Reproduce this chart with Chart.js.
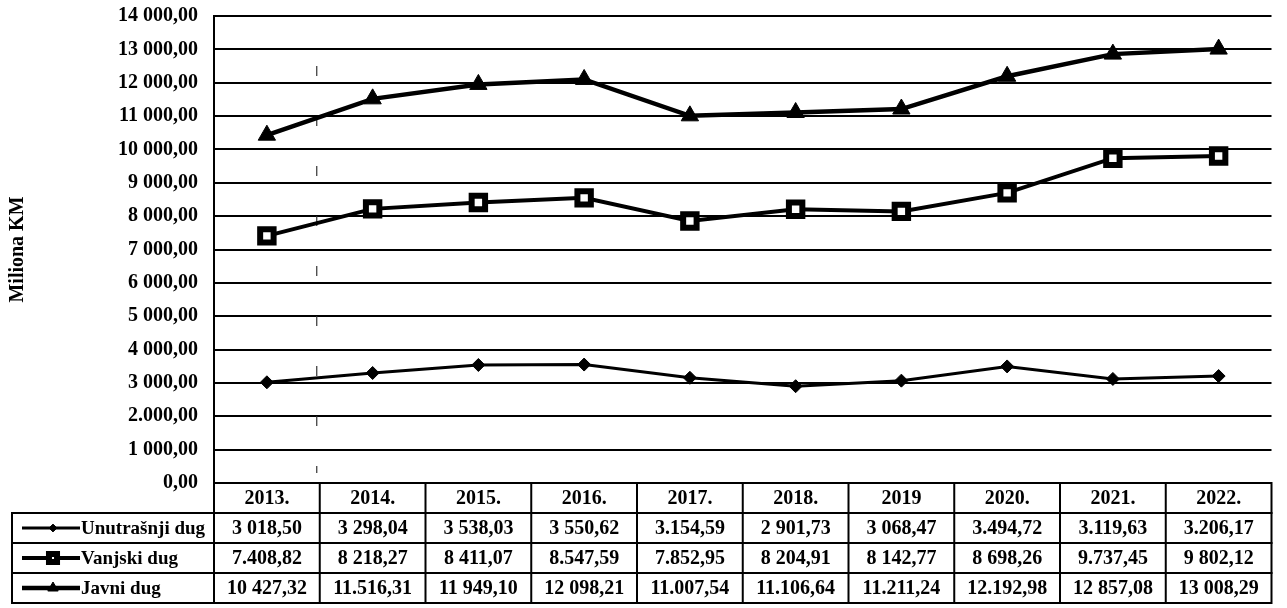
<!DOCTYPE html>
<html>
<head>
<meta charset="utf-8">
<script src="https://cdn.jsdelivr.net/npm/chart.js"></script>
<style>
  html, body { margin: 0; padding: 0; background: #fff; }
  #wrap { width: 1287px; height: 608px; position: relative; }
</style>
</head>
<body>
<div id="wrap"><canvas id="dug-chart"></canvas></div>
<script>
// godine (kategorije)
const years = ["2013.", "2014.", "2015.", "2016.", "2017.", "2018.", "2019", "2020.", "2021.", "2022."];

// vrijednosti serija (miliona KM)
const unutrasnjiDug = [3018.50, 3298.04, 3538.03, 3550.62, 3154.59, 2901.73, 3068.47, 3494.72, 3119.63, 3206.17];
const vanjskiDug = [7408.82, 8218.27, 8411.07, 8547.59, 7852.95, 8204.91, 8142.77, 8698.26, 9737.45, 9802.12];
const javniDug = [10427.32, 11516.31, 11949.10, 12098.21, 11007.54, 11106.64, 11211.24, 12192.98, 12857.08, 13008.29];

// tekst u tabeli, kako je odštampan
const unutrasnjiText = ["3 018,50", "3 298,04", "3 538,03", "3 550,62", "3.154,59", "2 901,73", "3 068,47", "3.494,72", "3.119,63", "3.206,17"];
const vanjskiText = ["7.408,82", "8 218,27", "8 411,07", "8.547,59", "7.852,95", "8 204,91", "8 142,77", "8 698,26", "9.737,45", "9 802,12"];
const javniText = ["10 427,32", "11.516,31", "11 949,10", "12 098,21", "11.007,54", "11.106,64", "11.211,24", "12.192,98", "12 857,08", "13 008,29"];

// oznake y ose
const yTickLabels = ["0,00", "1 000,00", "2.000,00", "3 000,00", "4 000,00", "5 000,00", "6 000,00", "7 000,00",
  "8 000,00", "9 000,00", "10 000,00", "11 000,00", "12 000,00", "13 000,00", "14 000,00"];

const FONT = "'Liberation Serif', 'Times New Roman', serif";

const seriesDefs = [
  { label: "Unutrašnji dug", data: unutrasnjiDug, text: unutrasnjiText, pointStyle: "rectRot", radius: 6.5, fill: "#000", border: 1, width: 3 },
  { label: "Vanjski dug", data: vanjskiDug, text: vanjskiText, pointStyle: "rect", radius: 9.5, fill: "#fff", border: 6, width: 4 },
  { label: "Javni dug", data: javniDug, text: javniText, pointStyle: "triangle", radius: 10, fill: "#000", border: 1, width: 4.5 },
];

// tabela ispod grafikona
const tablePlugin = {
  id: "dataTable",
  beforeDatasetsDraw(chart) {
    // isprekidana linija (iz skena)
    const ctx = chart.ctx;
    const x = chart.scales.x;
    const area = chart.chartArea;
    const lx = (x.getPixelForValue(0) + x.getPixelForValue(1)) / 2 - 3;
    ctx.save();
    ctx.strokeStyle = "#333";
    ctx.lineWidth = 1.2;
    ctx.setLineDash([10, 40]);
    ctx.beginPath();
    ctx.moveTo(lx, area.top + 50);
    ctx.lineTo(lx, area.bottom - 10);
    ctx.stroke();
    ctx.restore();
  },
  afterDraw(chart) {
    const ctx = chart.ctx;
    const x = chart.scales.x;
    const area = chart.chartArea;
    const rowH = 30;
    const tableLeft = 12;
    const top = area.bottom;
    const n = years.length;
    const edges = [area.left];
    for (let i = 0; i < n - 1; i++) {
      edges.push((x.getPixelForValue(i) + x.getPixelForValue(i + 1)) / 2);
    }
    edges.push(area.right);

    ctx.save();
    ctx.strokeStyle = "#000";
    ctx.fillStyle = "#000";
    ctx.lineWidth = 2;
    ctx.font = "bold 20px " + FONT;
    ctx.textAlign = "center";
    ctx.textBaseline = "middle";

    // zaglavlje sa godinama
    ctx.beginPath();
    ctx.rect(area.left, top, area.right - area.left, rowH);
    for (let i = 1; i < n; i++) {
      ctx.moveTo(edges[i], top);
      ctx.lineTo(edges[i], top + rowH * 4);
    }
    ctx.stroke();
    years.forEach((y, i) => {
      ctx.fillText(y, x.getPixelForValue(i), top + rowH / 2 + 1);
    });

    // redovi serija
    seriesDefs.forEach((s, r) => {
      const ry = top + rowH * (r + 1);
      const cy = ry + rowH / 2;
      ctx.beginPath();
      ctx.lineWidth = 2;
      ctx.rect(tableLeft, ry, area.right - tableLeft, rowH);
      ctx.moveTo(area.left, ry);
      ctx.lineTo(area.left, ry + rowH);
      ctx.stroke();

      // legenda
      ctx.beginPath();
      ctx.lineWidth = s.width;
      ctx.moveTo(tableLeft + 10, cy);
      ctx.lineTo(tableLeft + 68, cy);
      ctx.stroke();
      ctx.fillStyle = s.fill;
      ctx.lineWidth = s.border;
      Chart.helpers.drawPoint(ctx, {
        pointStyle: s.pointStyle,
        radius: s.radius * 0.6,
        rotation: 0,
        borderWidth: s.border * 0.7,
      }, tableLeft + 41, cy);
      ctx.fillStyle = "#000";
      ctx.textAlign = "left";
      ctx.font = "bold 19px " + FONT;
      ctx.fillText(s.label, tableLeft + 69, cy + 1);

      ctx.font = "bold 20px " + FONT;
      ctx.textAlign = "center";
      s.text.forEach((t, i) => {
        ctx.fillText(t, x.getPixelForValue(i), cy + 1);
      });
    });
    ctx.restore();
  },
};

new Chart(document.getElementById("dug-chart"), {
  type: "line",
  data: {
    labels: years,
    datasets: seriesDefs.map((s) => ({
      label: s.label,
      data: s.data,
      borderColor: "#000",
      borderWidth: s.width,
      backgroundColor: s.fill,
      pointStyle: s.pointStyle,
      pointRadius: s.radius,
      pointBorderColor: "#000",
      pointBackgroundColor: s.fill,
      pointBorderWidth: s.border,
      tension: 0,
      fill: false,
    })),
  },
  options: {
    responsive: true,
    maintainAspectRatio: false,
    animation: false,
    layout: { padding: { top: 16, right: 4, bottom: 125, left: 0 } },
    plugins: {
      legend: { display: false },
      tooltip: { enabled: false },
    },
    scales: {
      x: {
        type: "category",
        offset: true,
        display: false,
      },
      y: {
        min: 0,
        max: 14000,
        afterFit(scale) {
          scale.width = 214;
          scale.paddingTop = 0;
          scale.paddingBottom = 0;
        },
        ticks: {
          stepSize: 1000,
          padding: 16,
          color: "#000",
          font: { family: FONT, size: 20, weight: "bold" },
          callback: (v) => yTickLabels[Math.round(v / 1000)],
        },
        grid: { color: "#000", lineWidth: 2, drawTicks: false },
        border: { display: true, color: "#000", width: 2 },
        title: {
          display: true,
          text: "Miliona KM",
          color: "#000",
          padding: { top: 6, bottom: 0 },
          font: { family: FONT, size: 20, weight: "bold" },
        },
      },
    },
  },
  plugins: [tablePlugin],
});
</script>
</body>
</html>
